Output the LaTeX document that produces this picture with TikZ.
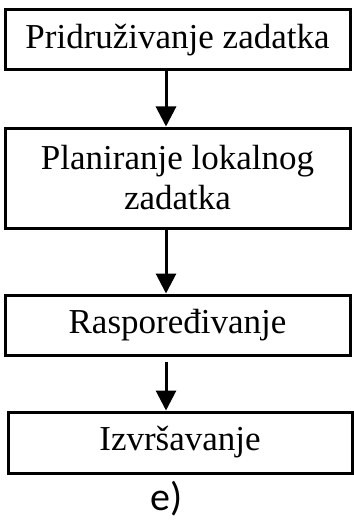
\documentclass[tikz,border=0pt]{standalone}
\usepackage{fontspec}
\setmainfont{Liberation Serif}
\newfontfamily\labelfont{Carlito}
\usetikzlibrary{arrows.meta,calc}
\begin{document}
\begin{tikzpicture}[x=1pt,y=-1pt,
  stagebox/.style={draw=black,line width=3pt,rectangle,minimum width=345pt,
    inner sep=0pt,align=center,font=\fontsize{35}{40}\selectfont},
  flow/.style={line width=3pt,-{Triangle[length=20pt,width=20pt]}}]
\useasboundingbox (0,0) rectangle (353,524);
\node[stagebox,minimum height=60pt] (b1) at (177.5,40) {Pridruživanje zadatka};
\node[stagebox,minimum height=100pt] (b2) at (177.5,178) {Planiranje lokalnog\\zadatka};
\node[stagebox,minimum height=60pt] (b3) at (177.5,325) {Raspoređivanje};
\node[stagebox,minimum height=61pt,minimum width=344pt] (b4) at (180,442.5) {Izvršavanje};
\node[font=\labelfont\fontsize{40}{44}\selectfont] (lbl) at (167,499) {e)};
\draw[flow] ($(b1.south)+(-11.5,0)$) -- ($(b2.north)+(-11.5,0)$);
\draw[flow] ($(b2.south)+(-11.5,0)$) -- ($(b3.north)+(-11.5,0)$);
\draw[flow] ($(b3.south)+(-11.5,5)$) -- ($(b4.north)+(-14,0)$);
\end{tikzpicture}
\end{document}
